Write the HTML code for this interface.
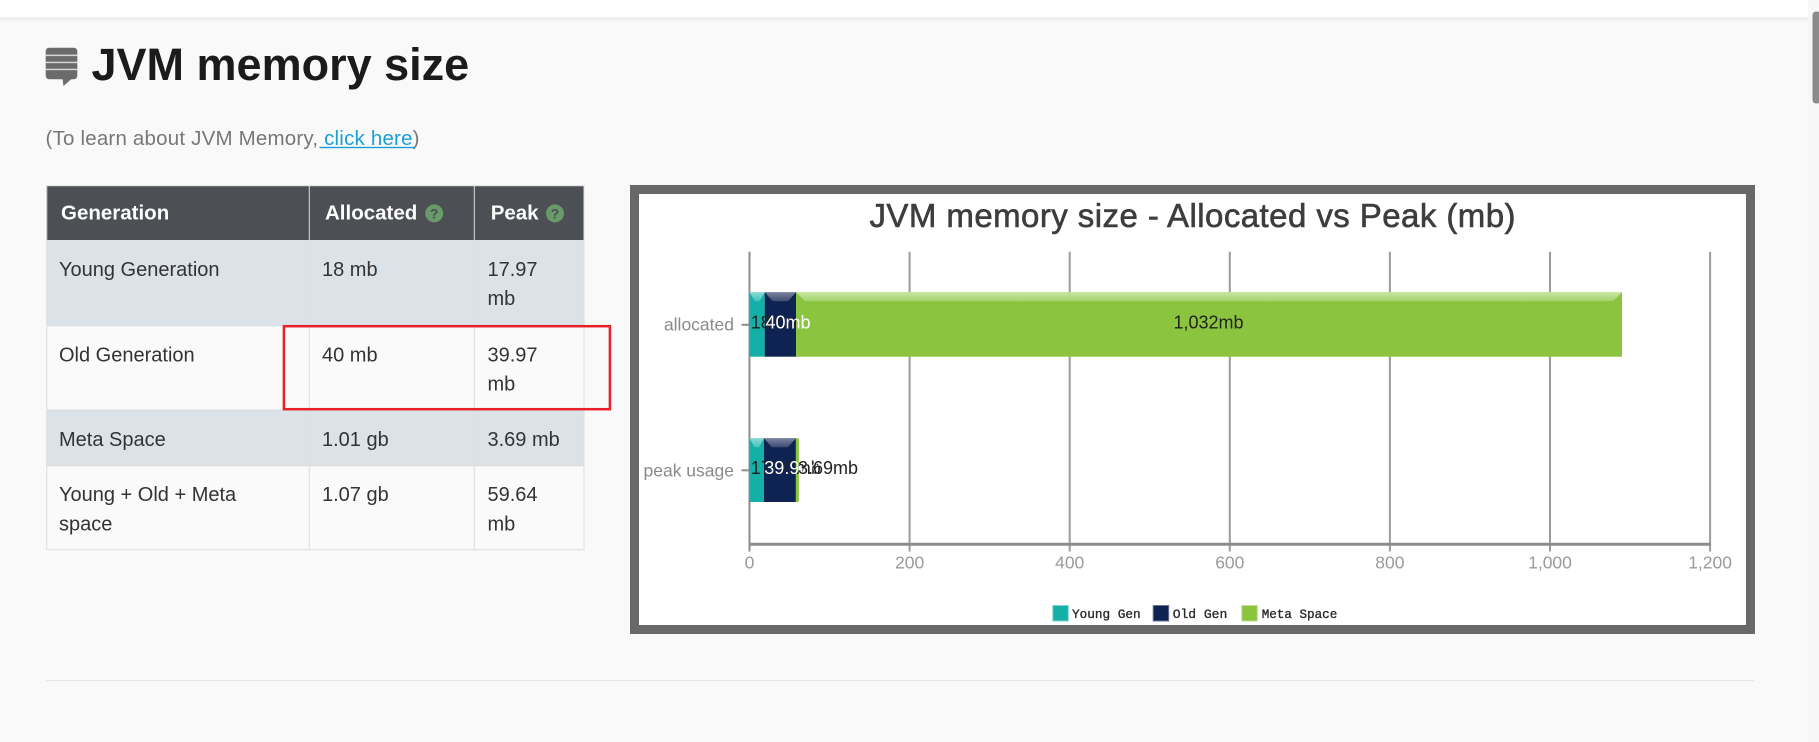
<!DOCTYPE html>
<html>
<head>
<meta charset="utf-8">
<style>
html,body{margin:0;padding:0;width:1819px;height:742px;overflow:hidden;background:#f9f9f9}
svg{display:block}
</style>
</head>
<body>
<svg width="1819" height="742" viewBox="0 0 1819 742" xmlns="http://www.w3.org/2000/svg" font-family="'Liberation Sans', Arial, sans-serif">
  <defs>
    <linearGradient id="shadow" x1="0" y1="0" x2="0" y2="1">
      <stop offset="0" stop-color="#000" stop-opacity="0.07"/>
      <stop offset="1" stop-color="#000" stop-opacity="0"/>
    </linearGradient>
    <linearGradient id="gT" x1="0" y1="0" x2="0" y2="1">
      <stop offset="0" stop-color="#8fdcd6"/>
      <stop offset="1" stop-color="#3fc0b8"/>
    </linearGradient>
    <linearGradient id="gN" x1="0" y1="0" x2="0" y2="1">
      <stop offset="0" stop-color="#7983a0"/>
      <stop offset="1" stop-color="#3e4a70"/>
    </linearGradient>
    <linearGradient id="gG" x1="0" y1="0" x2="0" y2="1">
      <stop offset="0" stop-color="#c8e6a2"/>
      <stop offset="1" stop-color="#a2d26a"/>
    </linearGradient>
  </defs>

  <!-- page background -->
  <rect x="0" y="0" width="1819" height="742" fill="#f9f9f9"/>

  <!-- top white bar -->
  <rect x="0" y="17" width="1808" height="5" fill="url(#shadow)"/>
  <rect x="0" y="0" width="1808" height="17.5" fill="#ffffff"/>
  <text x="186" y="-6" font-size="30" fill="#1aa3d9">y</text>

  <!-- scrollbar -->
  <rect x="1808" y="0" width="11" height="742" fill="#f7f7f7"/>
  <rect x="1812.5" y="11.5" width="8" height="92" rx="3.5" fill="#8a8a8a"/>

  <!-- heading icon -->
  <rect x="45.7" y="47.7" width="31.6" height="31.6" rx="3.5" fill="#6b6b6b"/>
  <polygon points="62.5,78.5 72,78.5 63.5,86" fill="#6b6b6b"/>
  <rect x="45.7" y="54.6" width="31.6" height="1.5" fill="#d6d6d6"/>
  <rect x="45.7" y="61.7" width="31.6" height="1.5" fill="#d6d6d6"/>
  <rect x="45.7" y="68.7" width="31.6" height="1.5" fill="#d6d6d6"/>

  <!-- heading -->
  <text x="91.5" y="80" font-size="45" font-weight="bold" fill="#1b1b1b">JVM memory size</text>

  <!-- subtitle -->
  <text x="45.5" y="145" font-size="20.5" fill="#777777" textLength="374" lengthAdjust="spacing">(To learn about JVM Memory,<tspan fill="#1a9fd6"> click here</tspan>)</text>
  <rect x="319.5" y="146.8" width="95.5" height="1.4" fill="#1a9fd6"/>

  <!-- ===== TABLE ===== -->
  <rect x="46.3" y="185.5" width="538" height="54.5" fill="#4c4f54"/>
  <rect x="46.3" y="240" width="538" height="85.7" fill="#dce3e8"/>
  <rect x="46.3" y="325.7" width="538" height="84.3" fill="#fafafa"/>
  <rect x="46.3" y="410" width="538" height="55.7" fill="#dce3e8"/>
  <rect x="46.3" y="465.7" width="538" height="84.3" fill="#fafafa"/>

  <!-- table grid lines -->
  <g stroke="#dddddd" stroke-width="1" fill="none">
    <line x1="46.8" y1="185.5" x2="46.8" y2="550"/>
    <line x1="584" y1="185.5" x2="584" y2="550"/>
    <line x1="309.3" y1="185.5" x2="309.3" y2="550"/>
    <line x1="474.3" y1="185.5" x2="474.3" y2="550"/>
    <line x1="46.3" y1="325.7" x2="584.4" y2="325.7"/>
    <line x1="46.3" y1="410" x2="584.4" y2="410"/>
    <line x1="46.3" y1="465.7" x2="584.4" y2="465.7"/>
    <line x1="46.3" y1="549.8" x2="584.4" y2="549.8"/>
    <line x1="46.3" y1="185.8" x2="584.4" y2="185.8"/>
  </g>

  <!-- header text -->
  <g font-size="20.5" font-weight="bold" fill="#ffffff">
    <text x="61" y="219.3">Generation</text>
    <text x="325" y="219.3">Allocated</text>
    <text x="490.7" y="219.3">Peak</text>
  </g>
  <circle cx="434.2" cy="213.4" r="9" fill="#699a69"/>
  <text x="434.2" y="218.6" font-size="14" font-weight="bold" fill="#4c4f54" text-anchor="middle">?</text>
  <circle cx="555" cy="213.4" r="9" fill="#699a69"/>
  <text x="555" y="218.6" font-size="14" font-weight="bold" fill="#4c4f54" text-anchor="middle">?</text>

  <!-- body text -->
  <g font-size="20" fill="#333333">
    <text x="59" y="275.8">Young Generation</text>
    <text x="322" y="275.8">18 mb</text>
    <text x="487.5" y="275.8">17.97</text>
    <text x="487.5" y="305.2">mb</text>

    <text x="59" y="361.3">Old Generation</text>
    <text x="322" y="361.3">40 mb</text>
    <text x="487.5" y="361.3">39.97</text>
    <text x="487.5" y="390.6">mb</text>

    <text x="59" y="445.8">Meta Space</text>
    <text x="322" y="445.8">1.01 gb</text>
    <text x="487.5" y="445.8">3.69 mb</text>

    <text x="59" y="501.2">Young + Old + Meta</text>
    <text x="59" y="530.5">space</text>
    <text x="322" y="501.2">1.07 gb</text>
    <text x="487.5" y="501.2">59.64</text>
    <text x="487.5" y="530.5">mb</text>
  </g>

  <!-- red highlight box -->
  <rect x="283.9" y="326.2" width="326" height="83" fill="none" stroke="#e8202a" stroke-width="2.5"/>

  <!-- separator -->
  <line x1="46" y1="680.5" x2="1754" y2="680.5" stroke="#e7e7e7" stroke-width="1"/>

  <!-- ===== CHART ===== -->
  <rect x="630" y="185" width="1125" height="449" fill="#686868"/>
  <rect x="639" y="194" width="1107" height="431" fill="#ffffff"/>

  <text x="1192.5" y="227" font-size="33" fill="#3d3d3d" stroke="#3d3d3d" stroke-width="0.6" text-anchor="middle" textLength="646" lengthAdjust="spacing">JVM memory size - Allocated vs Peak (mb)</text>

  <!-- gridlines -->
  <g stroke="#9b9b9b" stroke-width="2">
    <line x1="749.5" y1="251.7" x2="749.5" y2="551.5" stroke="#8c8c8c"/>
    <line x1="909.6" y1="251.7" x2="909.6" y2="551.5"/>
    <line x1="1069.7" y1="251.7" x2="1069.7" y2="551.5"/>
    <line x1="1229.8" y1="251.7" x2="1229.8" y2="551.5"/>
    <line x1="1389.9" y1="251.7" x2="1389.9" y2="551.5"/>
    <line x1="1550" y1="251.7" x2="1550" y2="551.5"/>
    <line x1="1710.1" y1="251.7" x2="1710.1" y2="551.5"/>
  </g>
  <!-- axis line -->
  <line x1="748.5" y1="544.3" x2="1711" y2="544.3" stroke="#8c8c8c" stroke-width="3"/>
  <!-- category ticks -->
  <line x1="741.5" y1="324.8" x2="749.5" y2="324.8" stroke="#8c8c8c" stroke-width="2"/>
  <line x1="741.5" y1="470.3" x2="749.5" y2="470.3" stroke="#8c8c8c" stroke-width="2"/>

  <!-- allocated bar -->
  <rect x="749.5" y="292.3" width="15.2" height="64.4" fill="#14b0a8"/>
  <rect x="764.7" y="292.3" width="31.3" height="64.4" fill="#0f2353"/>
  <rect x="796" y="292.3" width="826" height="64.4" fill="#8bc53f"/>
  <polygon points="749.5,292.3 764.7,292.3 759.5,301.3 754.7,301.3" fill="url(#gT)"/>
  <polygon points="764.7,292.3 796,292.3 788,301.3 772.7,301.3" fill="url(#gN)"/>
  <polygon points="796,292.3 1622,292.3 1613,301.3 805,301.3" fill="url(#gG)"/>

  <!-- peak bar -->
  <rect x="749.5" y="438.3" width="14.4" height="63.7" fill="#14b0a8"/>
  <rect x="763.9" y="438.3" width="32" height="63.7" fill="#0f2353"/>
  <rect x="795.9" y="438.3" width="3" height="63.7" fill="#8bc53f"/>
  <polygon points="749.5,438.3 763.9,438.3 759,447.3 754.4,447.3" fill="url(#gT)"/>
  <polygon points="763.9,438.3 795.9,438.3 787.9,447.3 771.9,447.3" fill="url(#gN)"/>

  <!-- data labels -->
  <g font-size="18">
    <text x="750.7" y="328.6" fill="#222222">18mb</text>
    <text x="765.5" y="328.6" fill="#ffffff">40mb</text>
    <text x="1208.5" y="328.6" fill="#222222" text-anchor="middle">1,032mb</text>

    <text x="750.7" y="474" fill="#222222">17.97mb</text>
    <text x="764.3" y="474" fill="#ffffff">39.97mb</text>
    <text x="798" y="474" fill="#222222">3.69mb</text>
  </g>

  <!-- category labels -->
  <g font-size="17.5" fill="#8a8a8a" text-anchor="end">
    <text x="734" y="330.5">allocated</text>
    <text x="734" y="476.5">peak usage</text>
  </g>

  <!-- axis tick labels -->
  <g font-size="17.5" fill="#9a9a9a" text-anchor="middle">
    <text x="749.5" y="568.5">0</text>
    <text x="909.6" y="568.5">200</text>
    <text x="1069.7" y="568.5">400</text>
    <text x="1229.8" y="568.5">600</text>
    <text x="1389.9" y="568.5">800</text>
    <text x="1550" y="568.5">1,000</text>
    <text x="1710.1" y="568.5">1,200</text>
  </g>

  <!-- legend -->
  <rect x="1052.8" y="605.5" width="15.5" height="15.5" fill="#14b0a8" stroke="#7fd3cd" stroke-width="1"/>
  <rect x="1153.2" y="605.5" width="15.5" height="15.5" fill="#0f2353" stroke="#6b7594" stroke-width="1"/>
  <rect x="1241.8" y="605.5" width="15.5" height="15.5" fill="#8bc53f" stroke="#bfe08f" stroke-width="1"/>
  <g font-family="'Liberation Mono', 'Courier New', monospace" font-size="13" fill="#2a2a2a" stroke="#2a2a2a" stroke-width="0.35">
    <text x="1072" y="617.8" textLength="68.7" lengthAdjust="spacingAndGlyphs">Young Gen</text>
    <text x="1172.7" y="617.8" textLength="54.6" lengthAdjust="spacingAndGlyphs">Old Gen</text>
    <text x="1261.7" y="617.8" textLength="75.6" lengthAdjust="spacingAndGlyphs">Meta Space</text>
  </g>
</svg>
</body>
</html>
